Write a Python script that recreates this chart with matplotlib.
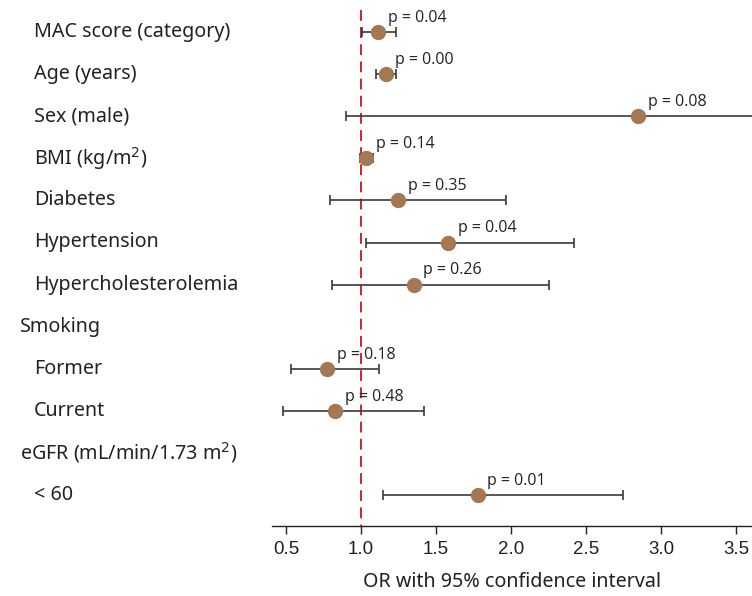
import numpy as np
import matplotlib.pyplot as plt

# rows from top to bottom; None = header row without estimate
labels = ["MAC score (category)", "Age (years)", "Sex (male)", "BMI (kg/m$^2$)",
          "Diabetes", "Hypertension", "Hypercholesterolemia", "Smoking",
          "Former", "Current", "eGFR (mL/min/1.73 m$^2$)", "< 60"]
indent = [1, 1, 1, 1, 1, 1, 1, 0, 1, 1, 0, 1]
odds = [1.115, 1.165, 2.85, 1.033, 1.249, 1.58, 1.351, None, 0.775, 0.827, None, 1.778]
ci_low = [1.004, 1.098, 0.90, 0.993, 0.791, 1.033, 0.807, None, 0.533, 0.478, None, 1.147]
ci_high = [1.233, 1.231, 3.75, 1.078, 1.967, 2.422, 2.253, None, 1.12, 1.422, None, 2.75]
pvals = ["0.04", "0.00", "0.08", "0.14", "0.35", "0.04", "0.26", None, "0.18", "0.48", None, "0.01"]
xticks = [0.5, 1.0, 1.5, 2.0, 2.5, 3.0, 3.5]

fig = plt.figure(figsize=(7.52, 5.96), dpi=100)
ax = fig.add_axes([272 / 752, (596 - 526) / 596, 480 / 752, 526 / 596])

rows = np.arange(len(labels))
sp = 42.1
ax.set_xlim(0.4067, 3.607)
ax.set_ylim((526 - 32) / sp, -32 / sp)

ax.plot([1.0, 1.0], [-22 / sp, (526 - 32) / sp], color="#d0101c", lw=1.3,
        dashes=(6, 3.5), zorder=1)

for i in rows:
    if odds[i] is None:
        continue
    ax.errorbar(odds[i], i, xerr=[[odds[i] - ci_low[i]], [ci_high[i] - odds[i]]],
                fmt="none", ecolor="#3a3a3a", elinewidth=1.2, capsize=3.5,
                capthick=1.2, zorder=2)
    ax.plot(odds[i], i, "o", color="#a57752", ms=10, zorder=3)
    ax.annotate("p = " + pvals[i], (odds[i], i), xytext=(7, 4.5),
                textcoords="offset points", ha="left", va="bottom",
                fontsize=11.5, family="Open Sans", color="#222222")

for i in rows:
    x_px = 34 if indent[i] else 20
    fig.text(x_px / 752, 1 - (32 + i * sp) / 596, labels[i], ha="left", va="center",
             fontsize=14.2, family="Noto Sans", color="#222222")

for s in ["top", "right", "left"]:
    ax.spines[s].set_visible(False)
ax.spines["bottom"].set_color("#222222")
ax.spines["bottom"].set_linewidth(1.0)
ax.set_yticks([])
ax.set_xticks(xticks)
ax.set_xticklabels([f"{t:.1f}" for t in xticks], fontsize=13.5,
                   family="Liberation Sans", color="#222222")
ax.tick_params(axis="x", length=6, width=1.0, color="#222222", pad=5)
ax.set_xlabel("OR with 95% confidence interval", fontsize=14.2, family="Noto Sans",
              color="#222222", labelpad=10)

fig.savefig("out.png", dpi=100)
